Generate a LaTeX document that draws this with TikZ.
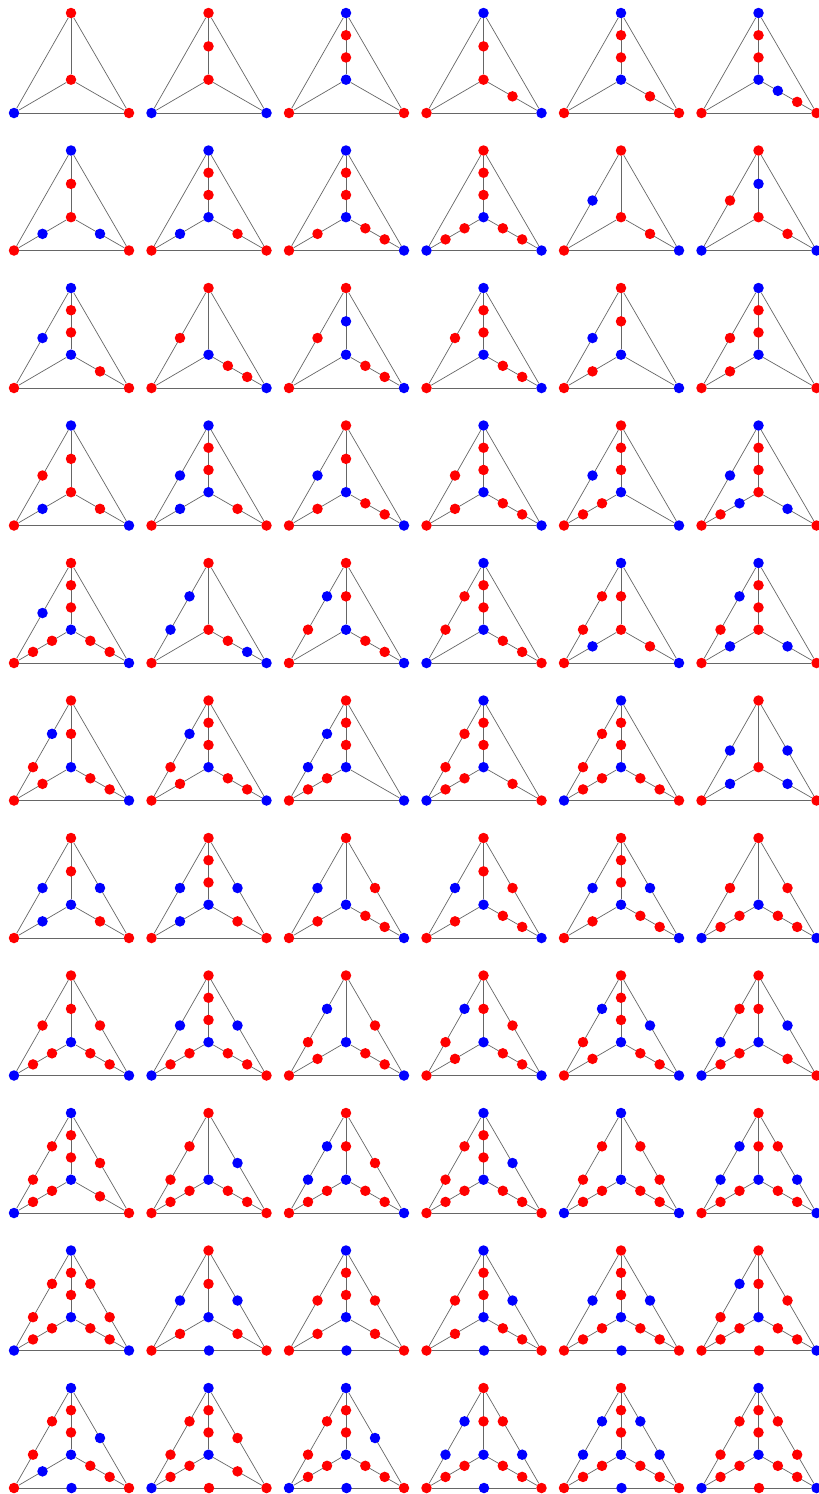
\documentclass[tikz,border=0pt]{standalone}
\usetikzlibrary{calc}
\colorlet{r}{red}
\colorlet{b}{blue}
\tikzset{
  dot/.style={circle,inner sep=0pt,minimum size=10.5pt,draw=none},
  edge/.style={draw=black!60,line width=0.7pt}
}
\newcommand\ktri[6]{%
  \edef\pre{g#1x#2}%
  \pgfmathsetmacro\ox{137.5*#1}%
  \pgfmathsetmacro\oy{137.5*#2}%
  \node[dot,fill=#3] (\pre T) at (\ox+71,\oy+13) {};
  \node[dot,fill=#4] (\pre L) at (\ox+14,\oy+113) {};
  \node[dot,fill=#5] (\pre R) at (\ox+129,\oy+113) {};
  \node[dot,fill=#6] (\pre C) at (\ox+71,\oy+79.7) {};
  \draw[edge] (\pre T) -- (\pre L);
  \draw[edge] (\pre T) -- (\pre R);
  \draw[edge] (\pre L) -- (\pre R);
  \draw[edge] (\pre C) -- (\pre T);
  \draw[edge] (\pre C) -- (\pre L);
  \draw[edge] (\pre C) -- (\pre R);
}
\newcommand\ksubdiv[3]{%
  \def\tmplist{#3}%
  \ifx\tmplist\empty\else
    \foreach \cc [count=\n] in {#3} {\xdef\subcount{\n}}%
    \foreach \cc [count=\i] in {#3} {%
      \pgfmathsetmacro\fr{\i/(\subcount+1)}%
      \node[dot,fill=\cc] (\pre#1#2\i) at ($(\pre#1)!\fr!(\pre#2)$) {};
    }%
  \fi}
\newcommand\ksubs[6]{\ksubdiv{T}{L}{#1}\ksubdiv{T}{R}{#2}\ksubdiv{L}{R}{#3}\ksubdiv{C}{T}{#4}\ksubdiv{C}{L}{#5}\ksubdiv{C}{R}{#6}}
\begin{document}
\begin{tikzpicture}[x=1pt,y=-1pt]
\useasboundingbox (0,0) rectangle (819,1494);
% row 0
\ktri{0}{0}{r}{b}{r}{r}\ksubs{}{}{}{}{}{}
\ktri{1}{0}{r}{b}{b}{r}\ksubs{}{}{}{r}{}{}
\ktri{2}{0}{b}{r}{r}{b}\ksubs{}{}{}{r,r}{}{}
\ktri{3}{0}{b}{r}{b}{r}\ksubs{}{}{}{r}{}{r}
\ktri{4}{0}{b}{r}{r}{b}\ksubs{}{}{}{r,r}{}{r}
\ktri{5}{0}{b}{r}{r}{b}\ksubs{}{}{}{r,r}{}{b,r}
% row 1
\ktri{0}{1}{b}{r}{r}{r}\ksubs{}{}{}{r}{b}{b}
\ktri{1}{1}{b}{r}{r}{b}\ksubs{}{}{}{r,r}{b}{r}
\ktri{2}{1}{b}{r}{b}{b}\ksubs{}{}{}{r,r}{r}{r,r}
\ktri{3}{1}{r}{b}{b}{b}\ksubs{}{}{}{r,r}{r,r}{r,r}
\ktri{4}{1}{r}{r}{b}{r}\ksubs{b}{}{}{}{}{r}
\ktri{5}{1}{r}{b}{b}{r}\ksubs{r}{}{}{b}{}{r}
% row 2
\ktri{0}{2}{b}{r}{r}{b}\ksubs{b}{}{}{r,r}{}{r}
\ktri{1}{2}{r}{r}{b}{b}\ksubs{r}{}{}{}{}{r,r}
\ktri{2}{2}{r}{r}{b}{b}\ksubs{r}{}{}{b}{}{r,r}
\ktri{3}{2}{b}{r}{b}{b}\ksubs{r}{}{}{r,r}{}{r,r}
\ktri{4}{2}{r}{r}{b}{b}\ksubs{b}{}{}{r}{r}{}
\ktri{5}{2}{b}{r}{r}{b}\ksubs{r}{}{}{r,r}{r}{}
% row 3
\ktri{0}{3}{b}{r}{b}{r}\ksubs{r}{}{}{r}{b}{r}
\ktri{1}{3}{b}{r}{r}{b}\ksubs{b}{}{}{r,r}{b}{r}
\ktri{2}{3}{r}{r}{b}{b}\ksubs{b}{}{}{r}{r}{r,r}
\ktri{3}{3}{b}{r}{b}{b}\ksubs{r}{}{}{r,r}{r}{r,r}
\ktri{4}{3}{r}{r}{b}{b}\ksubs{b}{}{}{r,r}{r,r}{}
\ktri{5}{3}{b}{r}{r}{r}\ksubs{b}{}{}{r,r}{b,r}{b}
% row 4
\ktri{0}{4}{r}{r}{b}{b}\ksubs{b}{}{}{r,r}{r,r}{r,r}
\ktri{1}{4}{r}{r}{b}{r}\ksubs{b,b}{}{}{}{}{r,b}
\ktri{2}{4}{r}{r}{b}{b}\ksubs{b,r}{}{}{r}{}{r,r}
\ktri{3}{4}{b}{b}{r}{b}\ksubs{r,r}{}{}{r,r}{}{r,r}
\ktri{4}{4}{b}{r}{b}{r}\ksubs{r,r}{}{}{r}{b}{r}
\ktri{5}{4}{b}{r}{r}{r}\ksubs{b,r}{}{}{r,r}{b}{b}
% row 5
\ktri{0}{5}{r}{r}{b}{b}\ksubs{b,r}{}{}{r}{r}{r,r}
\ktri{1}{5}{r}{r}{b}{b}\ksubs{b,r}{}{}{r,r}{r}{r,r}
\ktri{2}{5}{r}{r}{b}{b}\ksubs{b,b}{}{}{r,r}{r,r}{}
\ktri{3}{5}{b}{b}{r}{b}\ksubs{r,r}{}{}{r,r}{r,r}{r}
\ktri{4}{5}{b}{b}{r}{b}\ksubs{r,r}{}{}{r,r}{r,r}{r,r}
\ktri{5}{5}{r}{r}{r}{r}\ksubs{b}{b}{}{}{b}{b}
% row 6
\ktri{0}{6}{r}{r}{r}{b}\ksubs{b}{b}{}{r}{b}{r}
\ktri{1}{6}{r}{r}{r}{b}\ksubs{b}{b}{}{r,r}{b}{r}
\ktri{2}{6}{r}{r}{b}{b}\ksubs{b}{r}{}{}{r}{r,r}
\ktri{3}{6}{r}{r}{b}{b}\ksubs{b}{r}{}{r}{r}{r,r}
\ktri{4}{6}{r}{r}{b}{b}\ksubs{b}{b}{}{r,r}{r}{r,r}
\ktri{5}{6}{r}{b}{b}{b}\ksubs{r}{r}{}{}{r,r}{r,r}
% row 7
\ktri{0}{7}{r}{b}{b}{b}\ksubs{r}{r}{}{r}{r,r}{r,r}
\ktri{1}{7}{r}{b}{r}{b}\ksubs{b}{b}{}{r,r}{r,r}{r,r}
\ktri{2}{7}{r}{r}{b}{b}\ksubs{b,r}{r}{}{}{r}{r,r}
\ktri{3}{7}{r}{r}{b}{b}\ksubs{b,r}{r}{}{r}{r}{r,r}
\ktri{4}{7}{r}{r}{b}{b}\ksubs{b,r}{b}{}{r,r}{r}{r,r}
\ktri{5}{7}{r}{b}{r}{b}\ksubs{r,b}{b}{}{r}{r,r}{r}
% row 8
\ktri{0}{8}{b}{b}{r}{b}\ksubs{r,r}{r}{}{r,r}{r,r}{r}
\ktri{1}{8}{r}{r}{r}{b}\ksubs{r,r}{b}{}{}{r,r}{r,r}
\ktri{2}{8}{r}{r}{b}{b}\ksubs{b,b}{r}{}{r}{r,r}{r,r}
\ktri{3}{8}{b}{r}{r}{b}\ksubs{r,r}{b}{}{r,r}{r,r}{r,r}
\ktri{4}{8}{b}{b}{b}{b}\ksubs{r,r}{r,r}{}{}{r,r}{r,r}
\ktri{5}{8}{r}{r}{b}{b}\ksubs{b,b}{r,b}{}{r}{r,r}{r,r}
% row 9
\ktri{0}{9}{b}{b}{b}{b}\ksubs{r,r}{r,r}{}{r,r}{r,r}{r,r}
\ktri{1}{9}{r}{r}{r}{b}\ksubs{b}{b}{b}{r}{r}{r}
\ktri{2}{9}{b}{r}{r}{b}\ksubs{r}{r}{b}{r,r}{r}{r}
\ktri{3}{9}{b}{r}{r}{b}\ksubs{r}{b}{b}{r,r}{r}{r,r}
\ktri{4}{9}{r}{r}{r}{b}\ksubs{b}{b}{b}{r,r}{r,r}{r,r}
\ktri{5}{9}{r}{r}{b}{b}\ksubs{b,r}{r}{r}{r}{r,r}{r,r}
% row 10
\ktri{0}{10}{b}{r}{r}{b}\ksubs{r,r}{b}{b}{r,r}{b}{r,r}
\ktri{1}{10}{b}{b}{r}{b}\ksubs{r,r}{r}{r}{r,r}{r,r}{r}
\ktri{2}{10}{b}{b}{r}{b}\ksubs{r,r}{b}{b}{r,r}{r,r}{r,r}
\ktri{3}{10}{r}{r}{r}{b}\ksubs{b,b}{r,b}{b}{r}{r,r}{r,r}
\ktri{4}{10}{r}{r}{r}{b}\ksubs{b,b}{b,b}{b}{r,r}{r,r}{r,r}
\ktri{5}{10}{b}{b}{b}{b}\ksubs{r,r}{r,r}{r}{r,r}{r,r}{r,r}
\end{tikzpicture}
\end{document}
